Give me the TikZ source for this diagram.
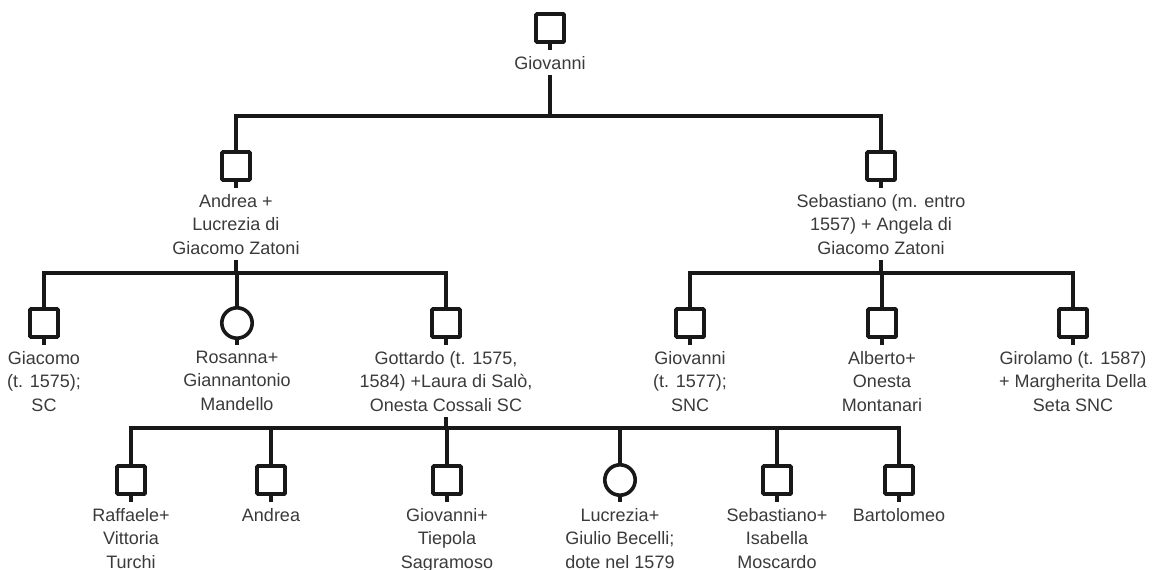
\documentclass[tikz,border=0pt]{standalone}
\usepackage{fontspec}
\setmainfont{Liberation Sans}
\usetikzlibrary{positioning}
\definecolor{inkline}{RGB}{24,24,24}
\definecolor{inktext}{RGB}{58,58,58}
\begin{document}
\begin{tikzpicture}[x=1pt,y=1pt,
  male/.style={rectangle, draw=inkline, line width=3.6pt, minimum size=28pt,
    inner sep=0pt, rounded corners=0.8pt},
  female/.style={circle, draw=inkline, line width=3.6pt, minimum size=30.4pt,
    inner sep=0pt},
  personname/.style={text=inktext, font=\fontsize{18}{23.5}\selectfont, align=center,
    inner xsep=0pt, inner ysep=6pt},
  link/.style={draw=inkline, line width=3.6pt, line join=miter},
]
\useasboundingbox (0,0) rectangle (1152,-570);

% generation I
\node[male] (g0) at (550,-28) {};
\node[personname, below=6pt of g0] (g0l) {Giovanni};

% generation II
\node[male] (an) at (236,-166) {};
\node[personname, below=6pt of an] (anl) {Andrea +\\Lucrezia di\\Giacomo Zatoni};
\node[male] (se) at (881,-166) {};
\node[personname, below=6pt of se] (sel) {Sebastiano (m. entro\\1557) + Angela di\\Giacomo Zatoni};

% generation III
\node[male] (gc) at (44,-323) {};
\node[personname, below=6pt of gc] (gcl) {Giacomo\\(t. 1575);\\SC};
\node[female] (ro) at (237,-323) {};
\node[personname, below=4.8pt of ro] (rol) {Rosanna+\\Giannantonio\\Mandello};
\node[male] (go) at (446,-323) {};
\node[personname, below=6pt of go] (gol) {Gottardo (t. 1575,\\1584) +Laura di Salò,\\Onesta Cossali SC};
\node[male] (gv) at (690,-323) {};
\node[personname, below=6pt of gv] (gvl) {Giovanni\\(t. 1577);\\SNC};
\node[male] (al) at (882,-323) {};
\node[personname, below=6pt of al] (all) {Alberto+\\Onesta\\Montanari};
\node[male] (gi) at (1073,-323) {};
\node[personname, below=6pt of gi] (gil) {Girolamo (t. 1587)\\+ Margherita Della\\Seta SNC};

% generation IV
\node[male] (ra) at (131,-480) {};
\node[personname, below=6pt of ra] (ral) {Raffaele+\\Vittoria\\Turchi};
\node[male] (ad) at (271,-480) {};
\node[personname, below=6pt of ad] (adl) {Andrea};
\node[male] (gt) at (447,-480) {};
\node[personname, below=6pt of gt] (gtl) {Giovanni+\\Tiepola\\Sagramoso};
\node[female] (lu) at (620,-480) {};
\node[personname, below=4.8pt of lu] (lul) {Lucrezia+\\Giulio Becelli;\\dote nel 1579};
\node[male] (sb) at (777,-480) {};
\node[personname, below=6pt of sb] (sbl) {Sebastiano+\\Isabella\\Moscardo};
\node[male] (ba) at (899,-480) {};
\node[personname, below=6pt of ba] (bal) {Bartolomeo};

% short ticks from each symbol to its name
\foreach \s/\l in {g0/g0l, an/anl, se/sel, gc/gcl, ro/rol, go/gol, gv/gvl,
                   al/all, gi/gil, ra/ral, ad/adl, gt/gtl, lu/lul, sb/sbl, ba/bal}
  \draw[link] (\s.south) -- (\l.north);

% sibship bars
\coordinate (barA) at (0,-116);
\coordinate (barB) at (0,-273);
\coordinate (barC) at (0,-428);

\draw[link] (g0l.south) -- (g0l.south |- barA);
\draw[link] (an.north) -- (an.north |- barA) -- (se.north |- barA) -- (se.north);

\draw[link] (anl.south) -- (anl.south |- barB);
\draw[link] (gc.north) -- (gc.north |- barB) -- (go.north |- barB) -- (go.north);
\draw[link] (ro.north) -- (ro.north |- barB);

\draw[link] (sel.south) -- (sel.south |- barB);
\draw[link] (gv.north) -- (gv.north |- barB) -- (gi.north |- barB) -- (gi.north);
\draw[link] (al.north) -- (al.north |- barB);

\draw[link] (gol.south) -- (gol.south |- barC);
\draw[link] (ra.north) -- (ra.north |- barC) -- (ba.north |- barC) -- (ba.north);
\foreach \c in {ad, gt, lu, sb}
  \draw[link] (\c.north) -- (\c.north |- barC);
\end{tikzpicture}
\end{document}
